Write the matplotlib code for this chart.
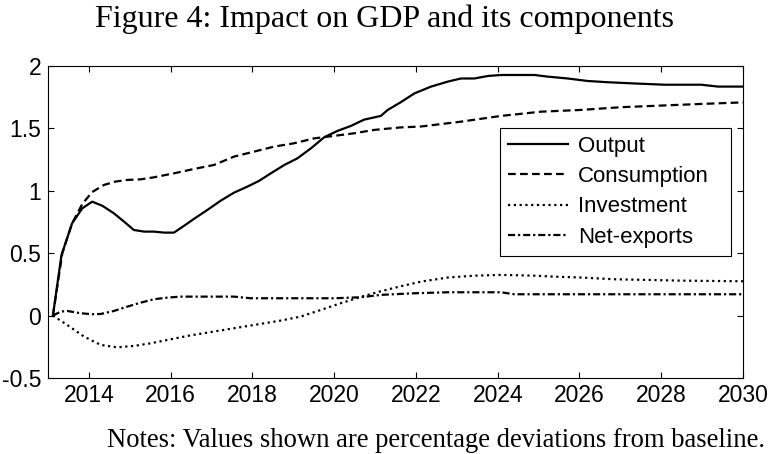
import matplotlib
matplotlib.use("Agg")
import matplotlib.pyplot as plt
from matplotlib.ticker import FuncFormatter

# ---- data ----
out_x = [2013.12, 2013.33, 2013.59, 2013.84, 2014.08, 2014.33, 2014.61, 2014.86, 2015.10, 2015.35,
         2015.59, 2015.84, 2016.08, 2016.33, 2016.57, 2016.90, 2017.22, 2017.55, 2017.88, 2018.16,
         2018.45, 2018.78, 2019.10, 2019.43, 2019.76, 2020.08, 2020.41, 2020.73, 2021.14, 2021.31,
         2021.63, 2021.96, 2022.37, 2022.78, 2023.10, 2023.43, 2023.76, 2024.08, 2024.90, 2025.22,
         2025.71, 2026.20, 2026.69, 2027.35, 2028.08, 2028.98, 2029.39, 2030.04]
output = [0.0, 0.486, 0.74, 0.86, 0.913, 0.88, 0.82, 0.753, 0.686, 0.673,
          0.673, 0.665, 0.665, 0.72, 0.775, 0.847, 0.92, 0.985, 1.034, 1.079,
          1.14, 1.207, 1.26, 1.34, 1.43, 1.48, 1.52, 1.57, 1.60, 1.648,
          1.71, 1.78, 1.835, 1.875, 1.90, 1.90, 1.92, 1.928, 1.928, 1.915,
          1.90, 1.88, 1.87, 1.86, 1.85, 1.85, 1.835, 1.835]

con_x = [2013.12, 2013.35, 2013.59, 2013.84, 2014.08, 2014.37, 2014.65, 2014.94, 2015.27, 2015.59,
         2016.08, 2016.57, 2017.06, 2017.55, 2018.04, 2018.53, 2019.02, 2019.51, 2020.00, 2020.49,
         2020.98, 2021.63, 2022.12, 2023.10, 2024.08, 2025.06, 2026.04, 2027.02, 2028.00, 2028.98,
         2030.04]
consumption = [0.0, 0.50, 0.74, 0.895, 0.99, 1.047, 1.074, 1.087, 1.092, 1.108,
               1.14, 1.175, 1.207, 1.274, 1.314, 1.354, 1.381, 1.42, 1.44, 1.461,
               1.488, 1.508, 1.515, 1.554, 1.60, 1.634, 1.648, 1.67, 1.683, 1.696,
               1.709]

inv_x = [2013.12, 2013.47, 2013.88, 2014.29, 2014.69, 2015.10, 2015.51, 2015.92, 2016.41, 2016.90,
         2017.39, 2018.04, 2018.69, 2019.18, 2019.67, 2020.16, 2020.65, 2021.14, 2021.63, 2022.12,
         2022.78, 2023.43, 2024.08, 2024.90, 2025.39, 2026.04, 2026.86, 2027.67, 2028.49, 2030.04]
investment = [0.0, -0.075, -0.168, -0.235, -0.254, -0.243, -0.222, -0.195, -0.163, -0.136,
              -0.11, -0.075, -0.04, -0.008, 0.045, 0.099, 0.150, 0.195, 0.235, 0.272,
              0.305, 0.32, 0.326, 0.32, 0.312, 0.305, 0.291, 0.286, 0.28, 0.275]

nx_x = [2013.12, 2013.31, 2013.47, 2013.80, 2014.08, 2014.29, 2014.61, 2014.94, 2015.27, 2015.59,
        2015.92, 2016.24, 2016.73, 2017.55, 2017.96, 2018.37, 2019.18, 2020.00, 2020.65, 2021.14,
        2021.96, 2022.78, 2024.08, 2024.41, 2025.22, 2030.04]
net_exports = [0.0, 0.032, 0.037, 0.019, 0.011, 0.013, 0.037, 0.072, 0.104, 0.131,
               0.144, 0.152, 0.152, 0.152, 0.139, 0.139, 0.139, 0.139, 0.147, 0.166,
               0.179, 0.187, 0.187, 0.171, 0.171, 0.171]

labels = ["Output", "Consumption", "Investment", "Net-exports"]
xticks = [2014, 2016, 2018, 2020, 2022, 2024, 2026, 2028, 2030]
yticks = [-0.5, 0, 0.5, 1, 1.5, 2]

title = "Figure 4: Impact on GDP and its components"
note = "Notes: Values shown are percentage deviations from baseline."

# ---- figure ----
sans = ["Liberation Sans", "DejaVu Sans"]
serif = ["Liberation Serif", "DejaVu Serif"]

W, H = 769, 454
fig = plt.figure(figsize=(W / 100, H / 100), dpi=100)
L, R, T, B = 48, 743, 66, 378
ax = fig.add_axes([L / W, 1 - B / H, (R - L) / W, (B - T) / H])

lw = 1.6
ax.plot(out_x, output, color="black", lw=lw, ls="-", label=labels[0])
ax.plot(con_x, consumption, color="black", lw=lw, ls=(0, (3.5, 1.9)), label=labels[1])
ax.plot(inv_x, investment, color="black", lw=lw, ls=(0, (1, 1.6)), label=labels[2])
ax.plot(nx_x, net_exports, color="black", lw=lw, ls=(0, (3.2, 1.3, 1, 1.3)), label=labels[3])

ax.set_xlim(2013, 2030)
ax.set_ylim(-0.5, 2)
ax.set_xticks(xticks)
ax.set_yticks(yticks)
ax.yaxis.set_major_formatter(FuncFormatter(lambda v, p: ("%g" % v)))
ax.tick_params(direction="in", top=True, right=True, length=4.3, width=0.8,
               labelsize=16.5)
ax.tick_params(axis="x", pad=4.5)
ax.tick_params(axis="y", pad=5)
for lab in ax.get_xticklabels() + ax.get_yticklabels():
    lab.set_family(sans)
for s in ax.spines.values():
    s.set_linewidth(0.8)

lx0 = (500 - L) / (R - L)
lw_ax = (731 - 500) / (R - L)
ltop = (B - 128) / (B - T)
leg = ax.legend(loc="upper left", bbox_to_anchor=(lx0, ltop - 0.3, lw_ax, 0.3),
                mode="expand", frameon=True, fancybox=False, edgecolor="black", framealpha=1,
                prop={"family": sans, "size": 16}, handlelength=2.7,
                handletextpad=0.45, borderpad=0.35, labelspacing=0.42, borderaxespad=0)
leg.get_frame().set_linewidth(0.8)

fig.text(0.5, 1 - 27 / H, title, ha="center", va="baseline", family=serif, fontsize=23)
fig.text(765 / W, 1 - 447 / H, note, ha="right", va="baseline", family=serif, fontsize=19.2)

fig.savefig("out.png", dpi=100)
